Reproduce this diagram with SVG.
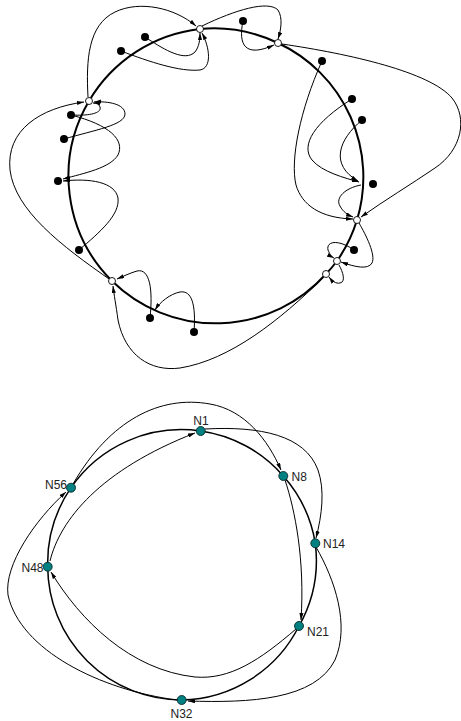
<svg xmlns="http://www.w3.org/2000/svg" width="461" height="721" viewBox="0 0 461 721">
<defs>
<marker id="ar" viewBox="0 0 10 6" refX="10" refY="3" markerWidth="7" markerHeight="4.2" markerUnits="userSpaceOnUse" orient="auto"><path d="M0,0 L10,3 L0,6 z" fill="#000"/></marker>
</defs>
<style>
.ring{fill:none;stroke:#000;stroke-width:2}
.ring2{fill:none;stroke:#000;stroke-width:1.5}
.c{fill:none;stroke:#000;stroke-width:1}
.ca{fill:none;stroke:#000;stroke-width:1;marker-end:url(#ar)}
.key{fill:#000}
.hn{fill:#fff;stroke:#000;stroke-width:0.9}
.tn{fill:#008080;stroke:#0b2b2b;stroke-width:0.9}
.lbl{font-family:"Liberation Sans",Arial,sans-serif;font-size:12px;fill:#222}
</style>
<rect width="461" height="721" fill="#fff"/>

<!-- top ring -->
<path id="ring-top" class="ring" d="M200,29 A148,148 0 0 1 278,43 A148,148 0 0 1 357,220 A148,148 0 0 1 337,261 A148,148 0 0 1 326,274 A148,148 0 0 1 112,281 A148,148 0 0 1 89,101 A148,148 0 0 1 200,29 Z"/>

<g id="connectors-top">
<path class="ca" d="M88,97 C86,60 88,25 115,12 C140,0 175,8 196,26"/>
<path class="ca" d="M148,39 C165,50 185,62 195,52 C199,47 200,40 200,33"/>
<path class="ca" d="M121,51 C150,62 180,72 200,70 C212,68 210,48 202,33"/>
<path class="ca" d="M202,26 C235,10 268,0 278,10 C283,18 281,30 278,39"/>
<path class="ca" d="M243,21 C238,45 245,58 274,45"/>
<path class="ca" d="M282,44 C350,54 430,72 452,98 C468,118 462,150 435,168 C410,185 385,200 361,217"/>
<path class="ca" d="M322,61 C300,110 290,160 296,185 C302,205 320,218 353,219"/>
<path class="ca" d="M352,99 C315,122 300,145 312,160 C322,172 345,178 359,182"/>
<path class="ca" d="M362,120 C338,140 330,165 358,181"/>
<path class="ca" d="M361,185 C345,188 335,198 340,206 C343,212 348,215 353,217"/>
<path class="ca" d="M359,223 C366,235 376,255 372,263 C368,270 355,267 341,262"/>
<path class="ca" d="M354,250 C340,240 326,240 328,250 C330,255 332,257 334,258"/>
<path class="ca" d="M339,265 C343,272 346,282 340,283 C336,284 332,281 329,277"/>
<path class="ca" d="M323,278 C280,320 230,360 180,368 C150,372 125,355 118,320 C116,305 114,295 113,286"/>
<path class="ca" d="M150,318 C153,290 150,268 137,271 C130,273 124,276 117,279"/>
<path class="ca" d="M194,332 C196,305 192,290 180,292 C170,294 160,302 155,310"/>
<path class="ca" d="M112,281 C60,245 15,210 10,170 C6,130 40,108 84,102"/>
<path class="ca" d="M71,115 C90,116 102,113 100,107 C99,104 97,103 93,103"/>
<path class="ca" d="M64,139 C95,130 125,125 125,114 C125,104 108,101 94,102"/>
<path class="ca" d="M71,115 C110,125 125,140 118,155 C110,168 85,173 63,179"/>
<path class="ca" d="M79,250 C100,232 120,215 118,198 C115,182 90,178 63,181"/>
</g>

<g id="keys-top">
<circle id="k1" class="key" cx="145" cy="37" r="4"/>
<circle id="k2" class="key" cx="121" cy="51" r="4"/>
<circle id="k3" class="key" cx="243" cy="21" r="4"/>
<circle id="k4" class="key" cx="322" cy="61" r="4"/>
<circle id="k5" class="key" cx="352" cy="99" r="4"/>
<circle id="k6" class="key" cx="362" cy="120" r="4"/>
<circle id="k7" class="key" cx="373" cy="184" r="4"/>
<circle id="k8" class="key" cx="354" cy="250" r="4"/>
<circle id="k9" class="key" cx="194" cy="332" r="4"/>
<circle id="k10" class="key" cx="150" cy="318" r="4"/>
<circle id="k11" class="key" cx="79" cy="250" r="4"/>
<circle id="k12" class="key" cx="58" cy="181" r="4"/>
<circle id="k13" class="key" cx="64" cy="139" r="4"/>
<circle id="k14" class="key" cx="71" cy="115" r="4"/>
</g>
<g id="nodes-top">
<circle id="h1" class="hn" cx="200" cy="29" r="3.5"/>
<circle id="h2" class="hn" cx="278" cy="43" r="3.5"/>
<circle id="h3" class="hn" cx="357" cy="220" r="3.5"/>
<circle id="h4" class="hn" cx="337" cy="261" r="3.5"/>
<circle id="h5" class="hn" cx="326" cy="274" r="3.5"/>
<circle id="h6" class="hn" cx="112" cy="281" r="3.5"/>
<circle id="h7" class="hn" cx="89" cy="101" r="3.5"/>
</g>

<!-- bottom ring -->
<path id="ring-bottom" class="ring2" d="M200.7,431 A134,134 0 0 1 283.3,476 A134,134 0 0 1 315.3,543.3 A134,134 0 0 1 299,626 A134,134 0 0 1 181.7,700 A134,134 0 0 1 47.7,566.7 A134,134 0 0 1 71,487.7 A134,134 0 0 1 200.7,431 Z"/>

<g id="connectors-bottom">
<path class="ca" d="M73,484 C110,420 160,395 210,404 C245,410 268,440 281,470"/>
<path class="ca" d="M205,429 C260,426 305,435 318,470 C325,490 322,515 316,538"/>
<path class="ca" d="M285,480 C295,510 305,560 301,620"/>
<path class="ca" d="M316,547 C335,580 350,625 335,660 C315,700 250,703 188,701"/>
<path class="ca" d="M296,629 C260,660 230,680 195,677 C130,670 80,620 51,572"/>
<path class="ca" d="M177,700 C100,690 20,650 8,595 C4,565 35,520 66,492"/>
<path class="ca" d="M50,561 C60,520 100,470 195,433"/>
</g>

<g id="N1"><circle class="tn" cx="200.7" cy="431" r="4.5"/><text class="lbl" x="201" y="425" text-anchor="middle">N1</text></g>
<g id="N8"><circle class="tn" cx="283.3" cy="476" r="4.5"/><text class="lbl" x="291.5" y="481">N8</text></g>
<g id="N14"><circle class="tn" cx="315.3" cy="543.3" r="4.5"/><text class="lbl" x="323" y="547.5">N14</text></g>
<g id="N21"><circle class="tn" cx="299" cy="626" r="4.5"/><text class="lbl" x="307" y="636">N21</text></g>
<g id="N32"><circle class="tn" cx="181.7" cy="700" r="4.5"/><text class="lbl" x="181.5" y="718" text-anchor="middle">N32</text></g>
<g id="N48"><circle class="tn" cx="47.7" cy="566.7" r="4.5"/><text class="lbl" x="43.5" y="572" text-anchor="end">N48</text></g>
<g id="N56"><circle class="tn" cx="71" cy="487.7" r="4.5"/><text class="lbl" x="67" y="488.5" text-anchor="end">N56</text></g>
</svg>
